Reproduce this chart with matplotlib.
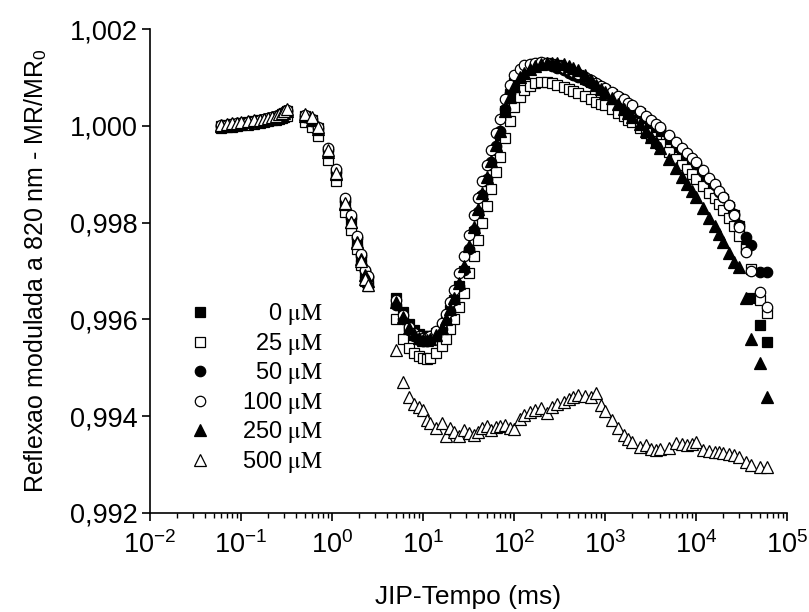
import numpy as np
import matplotlib
matplotlib.use("Agg")
import matplotlib.pyplot as plt
from matplotlib.ticker import FuncFormatter, LogLocator, FixedLocator

plt.rcParams['font.family'] = ['Liberation Sans', 'DejaVu Sans']
plt.rcParams['mathtext.fontset'] = 'stix'

# time base (ms), shared by all series
tempo_ms = [
    0.06, 0.07, 0.08, 0.09, 0.10, 0.12, 0.14, 0.16, 0.18, 0.20, 0.22, 0.24, 0.26, 0.28, 0.30, 0.32,
    0.5, 0.6, 0.7, 0.9, 1.1, 1.4, 1.6, 1.9, 2.1, 2.3, 2.5,
    5, 6, 7, 8, 9, 10,
    11, 12, 14, 16, 18, 20,
    22, 25, 28, 32, 36, 40,
    45, 50, 56, 63, 70, 80,
    90, 100, 115, 130, 150, 170,
    200, 230, 260, 300, 350, 400,
    450, 500, 600, 700, 800, 900,
    1000, 1200, 1400, 1600, 1800, 2000,
    2400, 2800, 3200, 3600, 4000, 5000,
    6000, 7000, 8000, 9000, 10000, 12000,
    14000, 16000, 18000, 20000, 23000, 26000,
    30000, 35000, 40000, 50000, 60000,
]

mr_0uM = [
    1.00000, 1.00002, 1.00003, 1.00004, 1.00005, 1.00007, 1.00009, 1.00011, 1.00013, 1.00015, 1.00017, 1.00019, 1.00021, 1.00024, 1.00027, 1.00030,
    1.00020, 1.00012, 0.99995, 0.99948, 0.99902, 0.99840, 0.99805, 0.99762, 0.99728, 0.99695, 0.99682,
    0.99644, 0.99615, 0.99590, 0.99578, 0.99570, 0.99566,
    0.99565, 0.99566, 0.99572, 0.99585, 0.99600, 0.99620,
    0.99640, 0.99668, 0.99700, 0.99740, 0.99780, 0.99815,
    0.99852, 0.99885, 0.99918, 0.99950, 0.99980, 1.00030,
    1.00065, 1.00088, 1.00105, 1.00115, 1.00122, 1.00127,
    1.00130, 1.00130, 1.00128, 1.00125, 1.00120, 1.00115,
    1.00110, 1.00105, 1.00097, 1.00090, 1.00084, 1.00079,
    1.00075, 1.00066, 1.00058, 1.00050, 1.00043, 1.00037,
    1.00026, 1.00015, 1.00006, 0.99998, 0.99990, 0.99972,
    0.99957, 0.99945, 0.99934, 0.99924, 0.99915, 0.99898,
    0.99884, 0.99871, 0.99859, 0.99848, 0.99832, 0.99815,
    0.99792, 0.99750, 0.99644, 0.99588, 0.99553,
]

mr_25uM = [
    0.99996, 0.99997, 0.99998, 1.00000, 1.00001, 1.00002, 1.00004, 1.00006, 1.00008, 1.00010, 1.00012, 1.00013, 1.00015, 1.00017, 1.00019, 1.00021,
    1.00008, 0.99998, 0.99978, 0.99930, 0.99885, 0.99822, 0.99785, 0.99745, 0.99712, 0.99680, 0.99668,
    0.99600, 0.99560, 0.99540, 0.99530, 0.99525, 0.99520,
    0.99518, 0.99520, 0.99530, 0.99545, 0.99560, 0.99580,
    0.99600, 0.99625, 0.99655, 0.99695, 0.99730, 0.99765,
    0.99800, 0.99835, 0.99870, 0.99905, 0.99935, 0.99975,
    1.00010, 1.00038, 1.00060, 1.00073, 1.00082, 1.00088,
    1.00090, 1.00090, 1.00088, 1.00085, 1.00080, 1.00076,
    1.00072, 1.00068, 1.00061, 1.00055, 1.00050, 1.00046,
    1.00042, 1.00035, 1.00027, 1.00020, 1.00013, 1.00007,
    0.99996, 0.99986, 0.99977, 0.99969, 0.99962, 0.99945,
    0.99932, 0.99920, 0.99910, 0.99900, 0.99891, 0.99876,
    0.99862, 0.99850, 0.99838, 0.99826, 0.99810, 0.99792,
    0.99772, 0.99745, 0.99705, 0.99640, 0.99613,
]

mr_50uM = [
    1.00000, 1.00001, 1.00003, 1.00004, 1.00006, 1.00008, 1.00010, 1.00012, 1.00014, 1.00016, 1.00018, 1.00020, 1.00022, 1.00025, 1.00028, 1.00031,
    1.00018, 1.00010, 0.99994, 0.99950, 0.99905, 0.99845, 0.99810, 0.99768, 0.99732, 0.99700, 0.99688,
    0.99630, 0.99600, 0.99578, 0.99565, 0.99558, 0.99555,
    0.99555, 0.99558, 0.99566, 0.99580, 0.99598, 0.99618,
    0.99640, 0.99670, 0.99702, 0.99745, 0.99785, 0.99822,
    0.99858, 0.99890, 0.99925, 0.99958, 0.99990, 1.00035,
    1.00068, 1.00090, 1.00107, 1.00117, 1.00123, 1.00126,
    1.00128, 1.00127, 1.00124, 1.00120, 1.00115, 1.00110,
    1.00105, 1.00101, 1.00094, 1.00088, 1.00082, 1.00077,
    1.00073, 1.00065, 1.00057, 1.00050, 1.00044, 1.00038,
    1.00028, 1.00018, 1.00009, 1.00001, 0.99994, 0.99978,
    0.99964, 0.99952, 0.99941, 0.99931, 0.99922, 0.99905,
    0.99890, 0.99877, 0.99864, 0.99852, 0.99836, 0.99818,
    0.99795, 0.99770, 0.99754, 0.99698, 0.99698,
]

mr_100uM = [
    1.00001, 1.00002, 1.00004, 1.00005, 1.00006, 1.00008, 1.00010, 1.00012, 1.00014, 1.00016, 1.00018, 1.00020, 1.00023, 1.00026, 1.00029, 1.00032,
    1.00022, 1.00015, 0.99998, 0.99955, 0.99910, 0.99850, 0.99815, 0.99772, 0.99735, 0.99702, 0.99690,
    0.99640, 0.99610, 0.99585, 0.99572, 0.99565, 0.99562,
    0.99562, 0.99566, 0.99576, 0.99592, 0.99612, 0.99635,
    0.99660, 0.99695, 0.99730, 0.99775, 0.99815, 0.99850,
    0.99885, 0.99918, 0.99950, 0.99985, 1.00015, 1.00055,
    1.00085, 1.00105, 1.00118, 1.00125, 1.00128, 1.00130,
    1.00131, 1.00130, 1.00128, 1.00125, 1.00120, 1.00116,
    1.00112, 1.00108, 1.00101, 1.00094, 1.00088, 1.00083,
    1.00078, 1.00070, 1.00062, 1.00055, 1.00048, 1.00042,
    1.00031, 1.00021, 1.00012, 1.00004, 0.99997, 0.99981,
    0.99967, 0.99955, 0.99944, 0.99934, 0.99925, 0.99908,
    0.99893, 0.99880, 0.99866, 0.99853, 0.99836, 0.99815,
    0.99790, 0.99740, 0.99700, 0.99657, 0.99626,
]

mr_250uM = [
    1.00000, 1.00001, 1.00002, 1.00004, 1.00005, 1.00007, 1.00009, 1.00011, 1.00013, 1.00015, 1.00017, 1.00019, 1.00021, 1.00024, 1.00027, 1.00030,
    1.00020, 1.00012, 0.99993, 0.99946, 0.99900, 0.99838, 0.99802, 0.99760, 0.99725, 0.99692, 0.99680,
    0.99635, 0.99605, 0.99582, 0.99570, 0.99562, 0.99558,
    0.99558, 0.99560, 0.99568, 0.99582, 0.99600, 0.99622,
    0.99645, 0.99675, 0.99710, 0.99752, 0.99790, 0.99828,
    0.99862, 0.99895, 0.99928, 0.99960, 0.99990, 1.00030,
    1.00060, 1.00082, 1.00100, 1.00110, 1.00118, 1.00123,
    1.00127, 1.00129, 1.00130, 1.00130, 1.00128, 1.00124,
    1.00120, 1.00115, 1.00105, 1.00095, 1.00085, 1.00077,
    1.00070, 1.00057, 1.00045, 1.00035, 1.00026, 1.00018,
    1.00004, 0.99990, 0.99977, 0.99966, 0.99955, 0.99932,
    0.99912, 0.99895, 0.99880, 0.99866, 0.99853, 0.99830,
    0.99810, 0.99792, 0.99776, 0.99760, 0.99738, 0.99718,
    0.99708, 0.99644, 0.99560, 0.99510, 0.99440,
]

mr_500uM = [
    1.00002, 1.00003, 1.00005, 1.00006, 1.00007, 1.00009, 1.00011, 1.00013, 1.00015, 1.00017, 1.00019, 1.00021, 1.00024, 1.00027, 1.00031, 1.00035,
    1.00025, 1.00018, 0.99998, 0.99950, 0.99903, 0.99840, 0.99802, 0.99758, 0.99720, 0.99684, 0.99672,
    0.99536, 0.99471, 0.99440, 0.99425, 0.99418, 0.99413,
    0.99392, 0.99385, 0.99376, 0.99385, 0.99360, 0.99376,
    0.99368, 0.99360, 0.99372, 0.99365, 0.99362, 0.99368,
    0.99375, 0.99380, 0.99372, 0.99378, 0.99380, 0.99382,
    0.99376, 0.99374, 0.99395, 0.99402, 0.99409, 0.99413,
    0.99417, 0.99407, 0.99418, 0.99425, 0.99430, 0.99436,
    0.99440, 0.99444, 0.99441, 0.99440, 0.99448, 0.99423,
    0.99410, 0.99392, 0.99376, 0.99361, 0.99352, 0.99347,
    0.99336, 0.99340, 0.99333, 0.99330, 0.99333, 0.99335,
    0.99345, 0.99342, 0.99340, 0.99343, 0.99347, 0.99330,
    0.99328, 0.99326, 0.99325, 0.99324, 0.99322, 0.99320,
    0.99316, 0.99305, 0.99299, 0.99295, 0.99295,
]

concentracoes = ["0", "25", "50", "100", "250", "500"]
series = [mr_0uM, mr_25uM, mr_50uM, mr_100uM, mr_250uM, mr_500uM]
estilos = [("s", "black"), ("s", "white"), ("o", "black"),
           ("o", "white"), ("^", "black"), ("^", "white")]

fig = plt.figure(figsize=(8.09, 6.12), dpi=100)
ax = fig.add_axes([0.1854, 0.1618, 0.7874, 0.7908])

for conc, valores, (mk, face) in zip(concentracoes, series, estilos):
    # figure spaces keep the numbers right-aligned like the original legend
    rotulo = conc.rjust(3, "\u2007") + r" $\mathrm{\mu M}$"
    ax.plot(tempo_ms, valores, linestyle="none", marker=mk, markersize=8.5 if mk == "^" else 7.5,
            markerfacecolor=face, markeredgecolor="black", markeredgewidth=0.9, label=rotulo)

ax.set_xscale("log")
ax.set_xlim(1e-2, 1e5)
ax.set_ylim(0.992, 1.002)

ax.yaxis.set_major_locator(FixedLocator([0.992, 0.994, 0.996, 0.998, 1.000, 1.002]))
ax.yaxis.set_major_formatter(FuncFormatter(lambda v, p: f"{v:.3f}".replace(".", ",")))
ax.xaxis.set_major_locator(LogLocator(base=10, numticks=20))
ax.xaxis.set_minor_locator(LogLocator(base=10, subs=np.arange(2, 10), numticks=20))
ax.xaxis.set_major_formatter(FuncFormatter(
    lambda v, p: r"$\mathregular{10^{%d}}$" % int(round(np.log10(v)))))

for lado in ["top", "right"]:
    ax.spines[lado].set_visible(False)
for lado in ["left", "bottom"]:
    ax.spines[lado].set_linewidth(1.2)

ax.tick_params(axis="both", which="major", direction="out", length=6, width=1.2,
               labelsize=19.5, pad=3)
ax.tick_params(axis="x", which="minor", direction="out", length=3.5, width=1.0)
ax.tick_params(axis="x", which="major", pad=7)

ax.set_xlabel("JIP-Tempo (ms)", fontsize=19, labelpad=19)
ax.set_ylabel(r"Reflexao modulada a 820 nm - MR/MR$_\mathregular{0}$", fontsize=18, labelpad=15)

ax.legend(loc="upper left", bbox_to_anchor=(0.05, 0.457), frameon=False,
          fontsize=17, handletextpad=1.4, labelspacing=0.15, borderaxespad=0,
          handlelength=0.75)

fig.savefig("out.png", dpi=100)
